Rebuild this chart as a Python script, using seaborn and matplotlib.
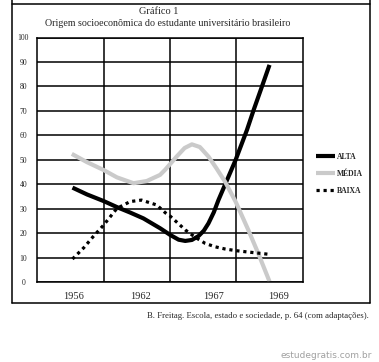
import numpy as np
import pandas as pd
import matplotlib.pyplot as plt
import seaborn as sb
from matplotlib.lines import Line2D

alta_x = [0.53, 0.75, 1.0, 1.22, 1.4, 1.6, 1.85, 2.0, 2.13, 2.23, 2.33, 2.43, 2.51, 2.58, 2.66, 2.73, 2.88, 2.99, 3.16, 3.26, 3.38, 3.5]
alta_y = [38.6, 35.8, 33.1, 30.4, 28.4, 26.0, 22.0, 19.3, 17.3, 16.8, 17.2, 18.8, 21.0, 24.0, 28.5, 33.5, 43.0, 50.0, 62.2, 70.3, 79.5, 88.8]

media_x = [0.52, 0.75, 1.0, 1.2, 1.45, 1.65, 1.85, 1.93, 2.1, 2.22, 2.33, 2.45, 2.58, 2.7, 2.83, 2.99, 3.18, 3.33, 3.5]
media_y = [52.4, 49.0, 45.8, 42.8, 40.4, 41.3, 43.8, 46.0, 51.3, 54.8, 56.3, 55.2, 51.3, 46.5, 41.0, 32.8, 21.3, 11.7, 0.2]

baixa_x = [0.53, 0.7, 0.84, 1.0, 1.2, 1.4, 1.57, 1.8, 1.93, 2.0, 2.15, 2.23, 2.38, 2.53, 2.68, 2.83, 3.0, 3.13, 3.3, 3.5]
baixa_y = [9.4, 14.0, 18.5, 23.3, 30.1, 32.9, 33.5, 31.5, 28.3, 27.0, 23.3, 21.3, 18.3, 15.8, 14.4, 13.5, 12.8, 12.4, 11.9, 11.3]

series = ['ALTA', 'MÉDIA', 'BAIXA']
anos = ['1956', '1962', '1967', '1969']
yticks = list(range(0, 101, 10))

df = pd.concat([
    pd.DataFrame({'x': alta_x, 'v': alta_y, 'serie': 'ALTA'}),
    pd.DataFrame({'x': media_x, 'v': media_y, 'serie': 'MÉDIA'}),
    pd.DataFrame({'x': baixa_x, 'v': baixa_y, 'serie': 'BAIXA'}),
])

sb.set_style('white')
plt.rcParams['font.family'] = ['Liberation Serif', 'DejaVu Serif']

fig = plt.figure(figsize=(3.79, 3.62), dpi=100)
ax = fig.add_axes([37.3 / 379, 80 / 362, 265.4 / 379, 244.5 / 362])

styles = {
    'ALTA': dict(color='black', linewidth=3.0, solid_capstyle='butt'),
    'MÉDIA': dict(color='#cacaca', linewidth=3.0, solid_capstyle='butt'),
    'BAIXA': dict(color='black', linewidth=2.3, linestyle=(0, (1, 1.2))),
}
for s in series:
    sb.lineplot(data=df[df.serie == s], x='x', y='v', sort=False, estimator=None,
                ax=ax, label=s, **styles[s])

ax.set_xlim(0, 4)
ax.set_ylim(0, 100)
ax.set_xticks([1, 2, 3], minor=True)
ax.set_xticks([0.54, 1.55, 2.65, 3.63])
ax.set_xticklabels(anos, fontsize=7.5)
ax.set_yticks(yticks)
ax.set_yticklabels([str(t) for t in yticks], fontsize=5.5, ha='center')
ax.tick_params(axis='y', length=0, pad=10)
ax.tick_params(axis='x', length=0, pad=7)
ax.tick_params(which='minor', length=0)
ax.grid(True, axis='y', color='black', linewidth=1.1)
ax.grid(True, axis='x', which='minor', color='black', linewidth=1.1)
for sp in ax.spines.values():
    sp.set_color('black')
    sp.set_linewidth(1.1)
ax.set_xlabel('')
ax.set_ylabel('')

ax.legend(loc='center left', bbox_to_anchor=(1.025, 0.443), frameon=False,
          handlelength=2.4, handletextpad=0.25, labelspacing=1.2,
          prop={'size': 5.5, 'weight': 'bold'})

fig.text(159 / 379, 1 - 12 / 362, 'Gráfico 1', ha='center', va='center', fontsize=7.5)
fig.text(167.5 / 379, 1 - 24 / 362, 'Origem socioeconômica do estudante universitário brasileiro',
         ha='center', va='center', fontsize=7.2)
fig.text(369 / 379, 1 - 316 / 362, 'B. Freitag. Escola, estado e sociedade, p. 64 (com adaptações).',
         ha='right', va='center', fontsize=6.3)
fig.text(372 / 379, 1 - 355 / 362, 'estudegratis.com.br', ha='right', va='center',
         fontsize=6.5, color='#a0a0a0', family='DejaVu Sans')

# outer frame
x0, x1 = 12 / 379, 370 / 379
y0, y1 = 1 - 303 / 362, 1 - 4 / 362
for xs, ys in [([x0, x1], [y1, y1]), ([x0, x1], [y0, y0]), ([x0, x0], [y0, 1]), ([x1, x1], [y0, 1])]:
    fig.add_artist(Line2D(xs, ys, color='black', linewidth=1.1, transform=fig.transFigure))

fig.savefig('out.png', dpi=100)
